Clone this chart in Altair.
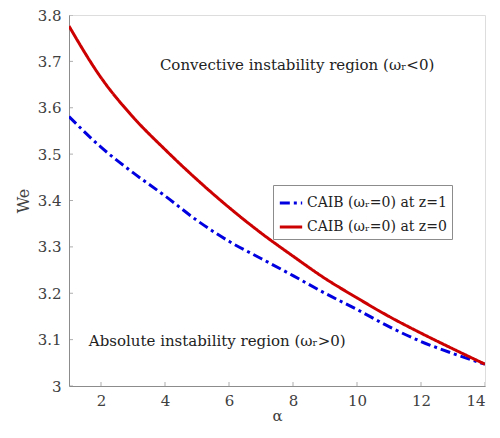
import altair as alt
import pandas as pd

alpha = [1, 2, 3, 4, 5, 6, 7, 8, 9, 10, 11, 12, 13, 14]
we_z1 = [3.581, 3.515, 3.460, 3.410, 3.357, 3.312, 3.275, 3.238, 3.200, 3.165, 3.128, 3.096, 3.070, 3.047]
we_z0 = [3.776, 3.665, 3.580, 3.510, 3.445, 3.385, 3.330, 3.280, 3.232, 3.190, 3.150, 3.114, 3.080, 3.047]
series = ["CAIB (ωᵣ=0) at z=1", "CAIB (ωᵣ=0) at z=0"]

x_ticks = [2, 4, 6, 8, 10, 12, 14]
y_ticks = [3.0, 3.1, 3.2, 3.3, 3.4, 3.5, 3.6, 3.7, 3.8]

notes = ["Convective instability region (ωᵣ<0)", "Absolute instability region (ωᵣ>0)"]
note_x = [3.84, 1.62]
note_y = [3.693, 3.096]

FONT = "DejaVu Serif"
AX = "#8c8c8c"
LAB = "#404040"

rows = []
for a, v in zip(alpha, we_z1):
    rows.append({"alpha": a, "We": v, "series": series[0]})
for a, v in zip(alpha, we_z0):
    rows.append({"alpha": a, "We": v, "series": series[1]})
df = pd.DataFrame(rows)

xs = alt.Scale(domain=[1, 14], nice=False, zero=False)
ys = alt.Scale(domain=[3.0, 3.8], nice=False, zero=False)

lines = alt.Chart(df).mark_line(strokeWidth=3, clip=True, interpolate="monotone").encode(
    x=alt.X("alpha:Q", scale=xs, title="α",
            axis=alt.Axis(values=x_ticks, tickSize=0, labelPadding=7, grid=False,
                          domainColor=AX, labelColor=LAB, titleColor=LAB,
                          labelFont=FONT, titleFont=FONT, labelFontSize=15,
                          titleFontSize=15, titleFontWeight="normal", titlePadding=0)),
    y=alt.Y("We:Q", scale=ys, title="We",
            axis=alt.Axis(values=y_ticks, format=".1~f", tickSize=0, labelPadding=8,
                          grid=False, domainColor=AX, labelColor=LAB, titleColor=LAB,
                          labelFont=FONT, titleFont=FONT, labelFontSize=15,
                          titleFontSize=16, titleFontWeight="normal", titlePadding=6)),
    color=alt.Color("series:N", sort=series,
                    scale=alt.Scale(domain=series, range=["#0000e0", "#cc0000"]),
                    legend=alt.Legend(title=None, orient="none", legendX=204, legendY=170,
                                      strokeColor="#8c8c8c", fillColor="white",
                                      padding=5, symbolType="stroke", symbolSize=500,
                                      symbolStrokeWidth=3, labelFont=FONT,
                                      labelFontSize=14, labelColor="#222222",
                                      rowPadding=4, labelOffset=3, symbolOffset=0)),
    strokeDash=alt.StrokeDash("series:N", sort=series,
                              scale=alt.Scale(domain=series, range=[[10, 4, 3, 4], [1, 0]]),
                              legend=None),
    order="alpha:Q",
)

xt = pd.DataFrame({"v": x_ticks})
yt = pd.DataFrame({"v": y_ticks})
xtick = alt.Chart(xt).mark_tick(clip=True, orient="vertical", size=8, thickness=1, color=AX).encode(
    x=alt.X("v:Q", scale=xs), y=alt.value(371))
ytick = alt.Chart(yt).mark_tick(clip=True, orient="horizontal", size=8, thickness=1, color=AX).encode(
    y=alt.Y("v:Q", scale=ys), x=alt.value(0))

ann = pd.DataFrame({"t": notes, "x": note_x, "y": note_y})
text = alt.Chart(ann).mark_text(align="left", baseline="middle", font=FONT, fontSize=15,
                                color="#222222").encode(
    x=alt.X("x:Q", scale=xs), y=alt.Y("y:Q", scale=ys), text="t:N")

chart = alt.layer(lines, xtick, ytick, text).properties(
    width=416, height=371,
    autosize=alt.AutoSizeParams(type="none"),
    padding={"left": 61, "top": 7, "right": 7, "bottom": 44},
).configure_view(stroke=None).configure(background="white")

chart.save("out.html", embed_options={"renderer": "svg", "actions": False})
